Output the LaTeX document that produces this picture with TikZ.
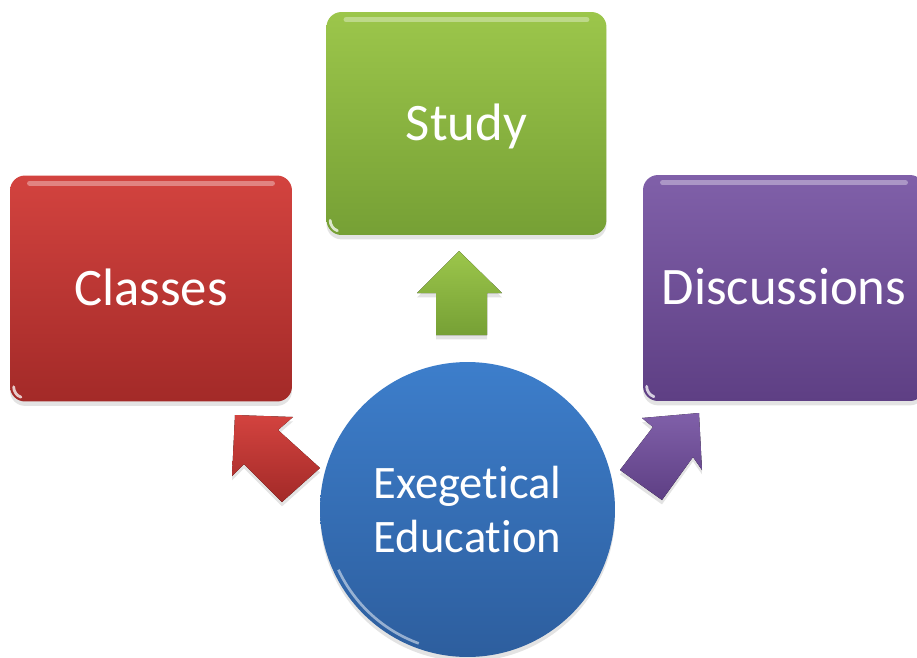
\documentclass[tikz,border=0pt]{standalone}
\usepackage{fontspec}
\setmainfont{Carlito}[Ligatures=NoCommon]
\usetikzlibrary{shadows}
\definecolor{greenT}{HTML}{9CC64B}
\definecolor{greenB}{HTML}{76A035}
\definecolor{redT}{HTML}{D3433F}
\definecolor{redB}{HTML}{A32A28}
\definecolor{purpleT}{HTML}{8060A9}
\definecolor{purpleB}{HTML}{5E3F84}
\definecolor{blueT}{HTML}{3D7ECB}
\definecolor{blueB}{HTML}{2D5E9E}
\tikzset{
  shade/.style={drop shadow={opacity=0.22, shadow xshift=0pt, shadow yshift=-2.5pt}},
  box/.style={shade, rounded corners=0.3cm, inner sep=0pt, text=white,
    font=\fontsize{30}{30.2}\selectfont, text height=19.3pt, text depth=0pt,
    minimum width=5.64cm, minimum height=4.52cm},
  hub/.style={shade, circle, inner sep=0pt, minimum size=5.9cm, text=white,
    align=center, font=\fontsize{26.5}{30.2}\selectfont},
  blockarrow/.style={shade},
  gloss/.style={white, opacity=0.35, line width=3pt, line cap=round},
  glint/.style={white, opacity=0.75, line width=1.6pt, line cap=round},
}
\begin{document}
\begin{tikzpicture}[x=0.02cm, y=-0.02cm]
\useasboundingbox (0,0) rectangle (917,657);
\clip (0,0) rectangle (917,657);

% block arrows
\fill[blockarrow, top color=greenT, bottom color=greenB]
  (459,251) -- (502,293) -- (487,293) -- (487,335) -- (436,335) -- (436,293) -- (417,293) -- cycle;
\fill[blockarrow, top color=redT, bottom color=redB]
  (235,415) -- (293,417) -- (278,430) -- (320,468) -- (282,502) -- (244,464) -- (232,476) -- cycle;
\fill[blockarrow, top color=purpleT, bottom color=purpleB]
  (699,413) -- (702,470) -- (693,457) -- (662,500) -- (620,470) -- (653,427) -- (642,418) -- cycle;

% boxes
\node[box, top color=greenT, bottom color=greenB, minimum width=5.6cm, minimum height=4.46cm]
  (study) at (466.5,123.5) {Study};
\node[box, top color=redT, bottom color=redB] (classes) at (151,288.5) {Classes};
\node[box, top color=purpleT, bottom color=purpleB] (disc) at (784,288) {Discussions};

% centre circle
\node[hub, top color=blueT, bottom color=blueB] (hubnode) at (467.5,509.5) {Exegetical\\Education};

% gloss highlights
\foreach \n in {study,classes,disc}{
  \draw[gloss] ([xshift=0.4cm,yshift=-0.16cm]\n.north west) -- ([xshift=-0.4cm,yshift=-0.16cm]\n.north east);
  \draw[glint] ([shift={(0.08cm,0.3cm)}]\n.south west) arc[start angle=180, end angle=250, radius=0.22cm];
}
\draw[white, opacity=0.5, line width=1.5pt] (hubnode.center) ++(205:2.85cm) arc[start angle=205, end angle=250, radius=2.85cm];
\end{tikzpicture}
\end{document}
